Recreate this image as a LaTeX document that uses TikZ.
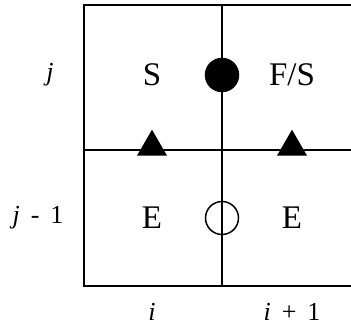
\documentclass[tikz,border=0pt]{standalone}
\usepackage{fontspec}
\setmainfont{Liberation Serif}

\tikzset{
  cell/.style={font=\fontsize{33}{33}\selectfont},
  idx/.style={font=\fontsize{26}{26}\selectfont,inner sep=1pt},
  marker/.style={draw,line width=1.5pt,circle,minimum size=33pt,inner sep=0pt},
  tri/.style={fill=black,isosceles triangle,isosceles triangle apex angle=60,
    shape border rotate=90,minimum height=26pt,inner sep=0pt}
}
\usetikzlibrary{shapes.geometric}

\begin{document}
\begin{tikzpicture}[x=1pt,y=-1pt,line width=1.5pt]
    \useasboundingbox (0,0) rectangle (351,328);

    % Grid corners
    \coordinate (TL) at (84,5);
    \coordinate (TR) at (351,5);
    \coordinate (ML) at (84,150);
    \coordinate (MR) at (351,150);
    \coordinate (BL) at (84,286);
    \coordinate (BR) at (351,286);
    \coordinate (TM) at (222,5);
    \coordinate (BM) at (222,286);

    % Draw grid lines
    \draw (TR) -- (TL) -- (BL) -- (BR);
    \draw (ML) -- (MR);
    \draw (TM) -- (BM);

    % Cell labels
    \node[cell] (s) at (152,75) {S};
    \node[cell] (fs) at (292,75) {F/S};
    \node[cell] (e1) at (152,218) {E};
    \node[cell] (e2) at (292,218) {E};

    % Face markers
    \node[marker,fill=black] (full) at (222,75) {};
    \node[marker,fill=white] (empty) at (222,218) {};
    \draw (empty.north) -- (empty.south);
    \node[tri] (up1) at (152,147) {};
    \node[tri] (up2) at (292,147) {};

    % Index labels
    \node[idx] (j) at (50,75) {\textit{j}};
    \node[idx] (jm) at (38,218) {\textit{j}\, -\, 1};
    \node[idx] (i) at (152,312) {\textit{i}};
    \node[idx] (ip) at (292,312) {\textit{i}\, +\, 1};
\end{tikzpicture}
\end{document}
